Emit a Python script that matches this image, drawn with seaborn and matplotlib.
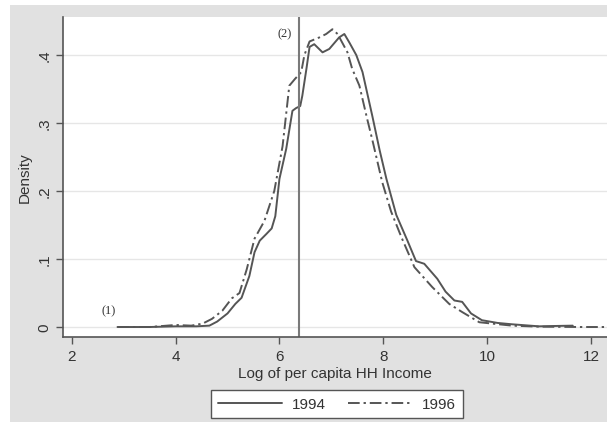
import matplotlib
matplotlib.use("Agg")
import matplotlib.pyplot as plt
import seaborn as sns
import pandas as pd
from matplotlib.patches import Rectangle

# density curves (log of per capita HH income)
x_1994 = [2.88, 3.5, 4.0, 4.4, 4.65, 4.8, 5.0, 5.15, 5.27, 5.42, 5.52, 5.62,
          5.75, 5.85, 5.92, 6.0, 6.13, 6.25, 6.32, 6.4, 6.44, 6.52, 6.58, 6.67,
          6.83, 6.96, 7.15, 7.25, 7.35, 7.48, 7.6, 7.79, 7.93, 8.06, 8.25, 8.46,
          8.63, 8.79, 9.04, 9.2, 9.37, 9.52, 9.69, 9.9, 10.2, 10.48, 11.0, 11.3, 11.65]
y_1994 = [0.0, 0.0, 0.001, 0.001, 0.002, 0.008, 0.02, 0.034, 0.043, 0.075, 0.11, 0.127,
          0.137, 0.145, 0.163, 0.218, 0.262, 0.318, 0.322, 0.325, 0.34, 0.38, 0.412, 0.416,
          0.404, 0.409, 0.426, 0.431, 0.418, 0.40, 0.375, 0.31, 0.26, 0.218, 0.165, 0.128,
          0.097, 0.093, 0.071, 0.052, 0.039, 0.037, 0.02, 0.01, 0.006, 0.004, 0.001, 0.0015, 0.002]

x_1996 = [2.88, 3.5, 4.0, 4.3, 4.52, 4.7, 4.9, 5.08, 5.23, 5.37, 5.52, 5.71, 5.9,
          6.06, 6.19, 6.3, 6.42, 6.48, 6.58, 6.77, 6.9, 7.02, 7.12, 7.31, 7.4, 7.54,
          7.69, 7.79, 7.98, 8.15, 8.35, 8.6, 8.94, 9.27, 9.52, 9.85, 10.48, 11.0, 11.77, 12.3]
y_1996 = [0.0, 0.0, 0.003, 0.002, 0.005, 0.012, 0.024, 0.042, 0.05, 0.085, 0.13, 0.156, 0.2,
          0.266, 0.355, 0.365, 0.375, 0.40, 0.42, 0.426, 0.431, 0.438, 0.431, 0.404, 0.38, 0.355,
          0.306, 0.275, 0.213, 0.17, 0.132, 0.088, 0.059, 0.034, 0.022, 0.007, 0.002, 0.0005, 0.0, 0.0]

x_ticks = [2, 4, 6, 8, 10, 12]
y_ticks = [0, 0.1, 0.2, 0.3, 0.4]
y_tick_labels = ["0", ".1", ".2", ".3", ".4"]
cutoff = 6.38

df = pd.concat([
    pd.DataFrame({"income": x_1994, "density": y_1994, "year": "1994"}),
    pd.DataFrame({"income": x_1996, "density": y_1996, "year": "1996"}),
])

sns.set_style("white")
plt.rcParams["font.family"] = ["Liberation Sans", "DejaVu Sans"]

fig = plt.figure(figsize=(6.07, 4.27), dpi=100)
# grey stata-like background panel
fig.patches.append(Rectangle((10 / 607, 1 - 423 / 427), 597 / 607, 417 / 427,
                             transform=fig.transFigure, facecolor="#e1e1e1",
                             edgecolor="none", zorder=-10))
ax = fig.add_axes([63 / 607, 1 - 338 / 427, 544 / 607, 320 / 427])
ax.set_zorder(1)
ax.set_facecolor("white")

line_col = "#555555"
sns.lineplot(data=df, x="income", y="density", hue="year", style="year",
             palette={"1994": line_col, "1996": line_col},
             dashes={"1994": "", "1996": (6, 2, 1.2, 2)},
             linewidth=1.4, sort=False, estimator=None, legend=False, ax=ax)

ax.axvline(cutoff, color="#7a7a7a", lw=1.5)
ax.text(6.1, 0.432, "(2)", family="Liberation Serif", fontsize=9, ha="center", va="center", color="#333333")
ax.text(2.7, 0.024, "(1)", family="Liberation Serif", fontsize=9, ha="center", va="center", color="#333333")

ax.set_xlim(1.83, 12.31)
ax.set_ylim(-0.0147, 0.456)
ax.set_xticks(x_ticks)
ax.set_yticks(y_ticks)
ax.set_yticklabels(y_tick_labels, rotation=90, va="center")
ax.yaxis.grid(True, color="#e6e6e6", lw=1)
ax.xaxis.grid(False)
for s in ["top", "right"]:
    ax.spines[s].set_visible(False)
for s in ["left", "bottom"]:
    ax.spines[s].set_color("#555555")
    ax.spines[s].set_linewidth(1.2)
ax.tick_params(axis="both", direction="out", length=5, width=1, color="#555555",
               labelsize=11, labelcolor="#333333", left=True, bottom=True)
ax.set_xlabel("Log of per capita HH Income", fontsize=11, color="#333333", labelpad=2)
ax.set_ylabel("Density", fontsize=11, color="#333333", labelpad=4)

handles = [plt.Line2D([], [], color=line_col, lw=1.4),
           plt.Line2D([], [], color=line_col, lw=1.4, dashes=(6, 2, 1.2, 2))]
leg = fig.legend(handles, ["1994", "1996"], loc="center", ncol=2,
                 bbox_to_anchor=(337 / 607, 1 - 405 / 427), frameon=True,
                 fancybox=False, fontsize=11, handlelength=4.2, handletextpad=0.6,
                 columnspacing=1.5, borderpad=0.45, edgecolor="#555555")
leg.get_frame().set_linewidth(1.0)
leg.get_frame().set_facecolor("white")
leg.get_frame().set_alpha(1)
for t in leg.get_texts():
    t.set_color("#333333")

fig.savefig("out.png", dpi=100, facecolor="white")
